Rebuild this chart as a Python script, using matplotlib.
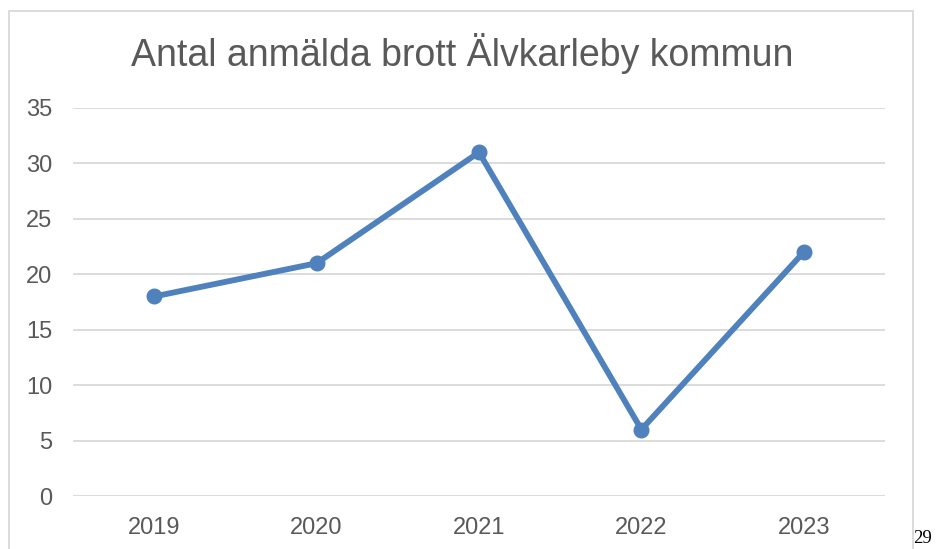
import matplotlib
matplotlib.use("Agg")
import matplotlib.pyplot as plt
from matplotlib.patches import Rectangle

years = ["2019", "2020", "2021", "2022", "2023"]
counts = [18, 21, 31, 6, 22]
yticks = [0, 5, 10, 15, 20, 25, 30, 35]

plt.rcParams['font.family'] = ['Liberation Sans', 'DejaVu Sans']

fig = plt.figure(figsize=(9.38, 5.49), dpi=100)
ax = fig.add_axes([0.0778, 0.0965, 0.8657, 0.7068])

x = range(len(years))
ax.plot(x, counts, color='#4F81BD', linewidth=4.2, marker='o', markersize=10.5,
        solid_capstyle='round')

ax.set_xlim(-0.5, len(years) - 0.5)
ax.set_ylim(0, 35)
ax.set_xticks(list(x))
ax.set_xticklabels(years)
ax.set_yticks(yticks)
ax.tick_params(axis='both', length=0, labelsize=17, labelcolor='#595959')
ax.tick_params(axis='x', pad=15)
ax.tick_params(axis='y', pad=15)
ax.grid(axis='y', color='#D9D9D9', linewidth=1.3)
ax.set_axisbelow(True)
for s in ax.spines.values():
    s.set_visible(False)

fig.text(0.4925, 0.903, "Antal anmälda brott Älvkarleby kommun", ha='center', va='center',
         fontsize=27, color='#595959')

# chart frame
fig.patches.append(Rectangle((9 / 938, -0.01), (913 - 9) / 938, 1 - 11 / 549 + 0.01,
                             transform=fig.transFigure, fill=False,
                             edgecolor='#D9D9D9', linewidth=1.3))

# page number
fig.text(0.9735, 0.003, "29", ha='left', va='bottom', fontsize=13.5,
         family=['Liberation Serif', 'DejaVu Serif'], color='black')

fig.savefig("out.png", dpi=100)
